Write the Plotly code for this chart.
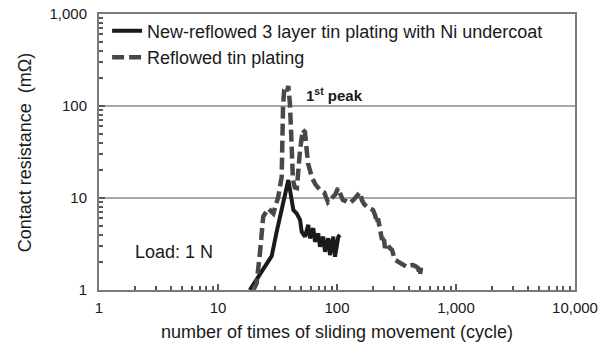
import plotly.graph_objects as go

# ---- data ----
new_x = [18.5, 28.3, 31, 39, 43, 45.8, 48.9, 50.5, 53.8, 57.4, 59.3, 63.2, 65.3, 69.6, 72,
         76.7, 79.3, 84.5, 87.3, 93.1, 96.2, 102.6, 106]
new_y = [1.0, 2.35, 4.2, 15.7, 7.4, 6.8, 5.8, 4.3, 3.8, 5.1, 3.65, 4.7, 3.35, 4.1, 2.96,
         3.8, 2.61, 3.65, 2.4, 3.8, 2.3, 3.8, 3.96]

ref_x = [19.8, 21.1, 22.5, 24, 26.5, 29.2, 32.1, 34.3, 35.2, 36, 37, 38, 39, 40.2, 41.5,
         42.6, 44.2, 46, 48.9, 51.5, 53.8, 57, 61.7, 66, 72, 78, 84, 88, 92.5, 97,
         102, 107, 112, 120, 128, 138, 150, 156, 162, 170, 179, 190, 201, 209, 217,
         221, 230, 239, 246, 253, 263, 275, 290, 307, 322, 338, 360, 387, 410, 435,
         460, 480, 498, 503, 508]
ref_y = [1.0, 1.18, 2.5, 6.3, 7.7, 6.8, 10.3, 17, 100, 150, 160, 145, 165, 107, 40,
         15.7, 13, 12.8, 33, 55, 52, 24, 16.5, 14, 12.2, 11.5, 9.0, 9.6, 10.2, 11,
         12.8, 10.5, 9.5, 9.2, 8.8, 9.6, 10.8, 11.5, 9.5, 8.5, 8.0, 7.8, 7.4, 6.5, 5.35,
         6.0, 4.5, 3.5, 3.9, 2.86, 3.24, 2.9, 2.72, 2.12, 2.05, 1.97, 1.9, 1.78, 1.85, 1.87,
         1.8, 1.73, 1.45, 1.6, 1.75]

x_tickvals = [1, 10, 100, 1000, 10000]
x_ticktext = ["1", "10", "100", "1,000", "10,000"]
y_tickvals = [1, 10, 100, 1000]
y_ticktext = ["1", "10", "100", "1,000"]

series_names = ["New-reflowed 3 layer tin plating with Ni undercoat", "Reflowed tin plating"]
x_title = "number of times of sliding movement (cycle)"
y_title = "Contact resistance\u00a0\u00a0(mΩ)"

FONT = "Liberation Sans, Arial, sans-serif"
TXT = "#1a1a1a"
AX = "#7a7a7a"
TK = "#5a5a5a"
CLEAR = "rgba(0,0,0,0)"

def minor_vals(lo, hi):
    out = []
    for e in range(lo, hi):
        for m in range(2, 10):
            out.append(m * 10 ** e)
    return out

fig = go.Figure()
fig.add_trace(go.Scatter(x=new_x, y=new_y, mode="lines", name=series_names[0],
                         line=dict(color="#1a1a1a", width=4)))
fig.add_trace(go.Scatter(x=ref_x, y=ref_y, mode="lines", name=series_names[1],
                         line=dict(color="#484848", width=4.5, dash="12px,5px")))
# empty trace so the label-carrying overlay axes are drawn
fig.add_trace(go.Scatter(x=[], y=[], xaxis="x2", yaxis="y2", showlegend=False,
                         hoverinfo="skip"))

fig.update_layout(
    width=603, height=344,
    margin=dict(l=99, r=28, t=14, b=54, autoexpand=False),
    paper_bgcolor="white", plot_bgcolor="white",
    font=dict(family=FONT, color=TXT, size=15),
    showlegend=True,
    legend=dict(x=0.017, y=1.005, xanchor="left", yanchor="top",
                bgcolor=CLEAR, font=dict(size=18, color=TXT),
                tracegroupgap=0),
    # main axes: frame + inside ticks
    xaxis=dict(type="log", range=[0, 4], tickvals=x_tickvals, showticklabels=False,
               automargin=False,
               ticks="inside", ticklen=6, tickwidth=1.5, tickcolor=TK,
               minor=dict(tickvals=minor_vals(0, 4), ticks="inside", ticklen=4,
                          tickwidth=1.5, tickcolor=TK, showgrid=False),
               showline=True, mirror=True, linecolor=AX, linewidth=1.5,
               showgrid=False, zeroline=False),
    yaxis=dict(type="log", range=[0, 3], tickvals=y_tickvals, showticklabels=False,
               automargin=False,
               ticks="inside", ticklen=6, tickwidth=1.5, tickcolor=TK,
               minor=dict(tickvals=minor_vals(0, 3), ticks="inside", ticklen=4,
                          tickwidth=1.5, tickcolor=TK, showgrid=False),
               showline=True, mirror=True, linecolor=AX, linewidth=1.5,
               showgrid=True, gridcolor="#a8a8a8", gridwidth=1.5, zeroline=False),
    # overlay axes: tick labels and x title
    xaxis2=dict(type="log", range=[0, 4], overlaying="x", anchor="y2", side="bottom",
                tickvals=x_tickvals, ticktext=x_ticktext, automargin=False,
                ticks="outside", ticklen=4, tickcolor=CLEAR,
                showline=False, showgrid=False, zeroline=False,
                tickfont=dict(size=15, color=TXT),
                title=dict(text=x_title, font=dict(size=18, color=TXT), standoff=10)),
    yaxis2=dict(type="log", range=[0, 3], overlaying="y", anchor="x2", side="left",
                tickvals=y_tickvals, ticktext=y_ticktext, automargin=False,
                ticks="outside", ticklen=8, tickcolor=CLEAR,
                showline=False, showgrid=False, zeroline=False,
                tickfont=dict(size=15, color=TXT)),
)

fig.add_annotation(text=y_title, xref="paper", yref="paper", x=-0.155, y=0.5,
                   xanchor="center", yanchor="middle", textangle=-90, showarrow=False,
                   font=dict(size=18, color=TXT))
fig.add_annotation(text="Load: 1 N", xref="paper", yref="paper", x=0.0714, y=0.138,
                   xanchor="left", yanchor="middle", showarrow=False,
                   font=dict(size=18, color=TXT))
fig.add_annotation(text="<b>1<sup>st</sup> peak</b>", xref="paper", yref="paper",
                   x=0.431, y=0.71, xanchor="left", yanchor="middle", showarrow=False,
                   font=dict(size=15, color=TXT))

fig.write_html("out.html")
